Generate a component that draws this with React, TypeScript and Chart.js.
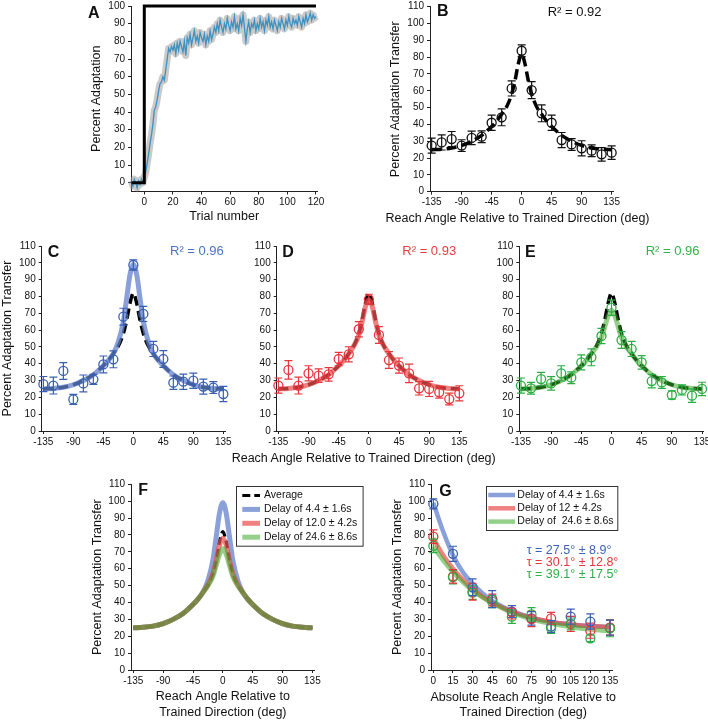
import React, { useEffect, useRef } from 'react';
import { Chart, registerables } from 'chart.js';
Chart.register(...registerables);

const FONT = 'Arial, "Liberation Sans", Helvetica, sans-serif';
Chart.defaults.font.family = FONT;

// ---------- Panel A ----------
const TRIAL_START = -9;
const ADAPTATION = [
  1, -2, 2, 0, -3, 1, -1, 2, 0, 3,
  6, 11, 16, 22, 27, 33, 41, 43, 47, 52,
  56, 57, 60, 58, 64, 70, 76, 74, 77, 75,
  78, 73, 79, 75, 80, 77, 74, 80, 72, 82,
  79, 84, 78, 82, 86, 80, 83, 79, 85, 82,
  80, 84, 78, 83, 80, 86, 81, 84, 88, 85,
  90, 86, 92, 88, 85, 90, 87, 93, 89, 86,
  91, 88, 94, 87, 90, 86, 93, 89, 95, 88,
  80, 87, 91, 85, 90, 88, 92, 86, 90, 87,
  93, 88, 91, 86, 92, 89, 94, 88, 91, 87,
  92, 89, 86, 91, 88, 93, 90, 87, 92, 89,
  94, 90, 88, 93, 90, 92, 89, 94, 91, 88,
  93, 90, 95, 91, 93, 96, 92, 95, 93, 94,
];
const TARGET_X = [-9, 0, 0, 120];
const TARGET_Y = [0, 0, 100, 100];
const TRIAL_TICKS = [0, 20, 40, 60, 80, 100, 120];
const ADAPT_TICKS = [0, 10, 20, 30, 40, 50, 60, 70, 80, 90, 100];

// ---------- Panels B-E ----------
const ANGLES = [-135, -120, -105, -90, -75, -60, -45, -30, -15, 0, 15, 30, 45, 60, 75, 90, 105, 120, 135];
const ANGLE_TICKS = [-135, -90, -45, 0, 45, 90, 135];
const TRANSFER_TICKS = [0, 10, 20, 30, 40, 50, 60, 70, 80, 90, 100, 110];

const AVG_MEAN = [27.4, 29.3, 31.3, 27.4, 32, 32.7, 41, 44.2, 61.4, 83.8, 60.4, 46.6, 41, 30.7, 28.1, 25.8, 24.4, 22.2, 23.2];
const AVG_ERR = [4.5, 4.5, 4.5, 3.5, 4, 3.5, 4.5, 5, 4.5, 3.5, 5, 5, 4.5, 4.5, 3.5, 4.5, 3.5, 4, 4];
const SHORT_MEAN = [27.9, 27, 35.7, 18.8, 28.3, 30.7, 39.6, 42.6, 68, 98.7, 69.6, 48.8, 42.8, 28.7, 29.3, 29.9, 26.4, 25.8, 22];
const SHORT_ERR = [4.5, 5, 5, 3, 5, 3, 5, 5, 5, 3, 4.5, 4.5, 5, 4, 4.5, 4.5, 4.5, 3.5, 4.5];
const MID_MEAN = [27, 36.3, 27, 34.3, 32.9, 33.7, 42.8, 45.6, 60.5, 78.3, 57.1, 42.2, 38.9, 34.3, 25.4, 25, 23, 19, 22.4];
const MID_ERR = [4.5, 5.5, 5, 4.5, 4, 4, 4, 4.5, 4.5, 3, 5, 5, 4.5, 5.5, 4, 4.5, 3.5, 3.5, 4.5];
const LONG_MEAN = [27, 25.4, 30.9, 28.3, 34.3, 31.7, 40.8, 43.8, 56.5, 73.3, 54.1, 48.8, 40.8, 29.7, 28.9, 21.4, 24.4, 21, 25];
const LONG_ERR = [4.5, 3.5, 4, 4, 4.5, 3.5, 4.5, 5, 4.5, 4.5, 5, 4.5, 4, 4, 3.5, 2.5, 3, 4, 4];

// fitted curves
const FIT_ANGLES = [-135, -120, -105, -90, -75, -60, -45, -37.5, -30, -22.5, -15, -10, -5, 0, 5, 10, 15, 22.5, 30, 37.5, 45, 60, 75, 90, 105, 120, 135];
const FIT_AVG = [25, 25.3, 26, 27.5, 30, 33.5, 38.8, 42, 46, 50.5, 58, 66, 76, 82, 76, 66, 58, 50.5, 46, 42, 38.8, 33.5, 30, 27.5, 26, 25.3, 25];
const FIT_SHORT = [25, 25.3, 26, 27.5, 30, 33.5, 38.8, 42, 46, 53, 65, 79, 93, 99, 93, 79, 65, 53, 46, 42, 38.8, 33.5, 30, 27.5, 26, 25.3, 25];
const FIT_MID = [25, 25.3, 26, 27.5, 30, 33.5, 38.8, 42, 46, 50.5, 57, 65, 74, 78, 74, 65, 57, 50.5, 46, 42, 38.8, 33.5, 30, 27.5, 26, 25.3, 25];
const FIT_LONG = [25, 25.3, 26, 27.5, 30, 33.5, 38.8, 42, 46, 50, 55.5, 62, 68.5, 72, 68.5, 62, 55.5, 50, 46, 42, 38.8, 33.5, 30, 27.5, 26, 25.3, 25];

// ---------- Panel G ----------
const ABS_ANGLES = [0, 15, 30, 45, 60, 75, 90, 105, 120, 135];
const G_SHORT_MEAN = [98.4, 68.8, 49, 42, 34.6, 30.6, 25.7, 31.6, 28.7, 25.1];
const G_SHORT_ERR = [3, 4.5, 5, 5, 3.5, 4, 3.5, 4.5, 4.5, 4.5];
const G_MID_MEAN = [79, 55.5, 46.4, 41.5, 34.2, 30.2, 30.6, 27.3, 23.3, 25.1];
const G_MID_ERR = [4, 4, 5, 3.5, 4, 4.5, 3.5, 4.5, 4.5, 4.5];
const G_LONG_MEAN = [73.5, 55, 45.8, 40.5, 31.6, 33, 24.7, 27.3, 18.8, 24.7];
const G_LONG_ERR = [4, 4, 4, 3.5, 4, 4, 3, 3.5, 2, 5];
const G_FIT_ANGLES = [0, 7.5, 15, 22.5, 30, 37.5, 45, 60, 75, 90, 105, 120, 135];
const G_FIT_SHORT = [99, 82, 68, 58, 51, 45.5, 41, 35, 31, 28.5, 27, 26, 25.5];
const G_FIT_MID = [78, 68, 60, 53.5, 48, 43.5, 40, 34.5, 31, 28.5, 27, 26, 25.5];
const G_FIT_LONG = [73, 65, 58, 52, 47, 43, 39.5, 34, 30, 27.5, 25.5, 24, 23];
const ABS_TICKS = [0, 15, 30, 45, 60, 75, 90, 105, 120, 135];

const LBL_AVG = 'Average';
const LBL_SHORT = 'Delay of 4.4 \u00b1 1.6s';
const LBL_MID_F = 'Delay of 12.0 \u00b1 4.2s';
const LBL_MID_G = 'Delay of 12 \u00b1 4.2s';
const LBL_LONG_F = 'Delay of 24.6 \u00b1 8.6s';
const LBL_LONG_G = 'Delay of  24.6 \u00b1 8.6s';

// ---------- styles ----------
const BLUE_LINE = 'rgba(98,128,204,0.75)';
const RED_LINE = 'rgba(235,80,80,0.72)';
const GREEN_LINE = 'rgba(60,170,40,0.55)';
const BLUE_MK = '#3a5fb2';
const RED_MK = '#e8353b';
const GREEN_MK = '#2aae43';

const pts = (xs: number[], ys: number[]) => xs.map((x, i) => ({ x, y: ys[i] }));

function curve(xs: number[], ys: number[], color: string, width: number, dash: number[], order: number, label = '', legend = false): any {
  return {
    type: 'line', label, legend, data: pts(xs, ys), borderColor: color, backgroundColor: color,
    borderWidth: width, borderDash: dash, pointRadius: 0, fill: false,
    cubicInterpolationMode: 'monotone', order, clip: false,
  };
}
function markers(xs: number[], ys: number[], errs: number[], color: string, order: number): any {
  return {
    type: 'line', data: pts(xs, ys), showLine: false, pointRadius: 4.5, pointHoverRadius: 4.5,
    pointBorderColor: color, pointBackgroundColor: 'rgba(255,255,255,0)', pointBorderWidth: 1.3,
    borderColor: color, errors: errs, errColor: color, order, clip: false,
  };
}

const errorBars = {
  id: 'errorBars',
  afterDatasetsDraw(chart: any) {
    const ctx = chart.ctx;
    const ys = chart.scales.y;
    chart.data.datasets.forEach((ds: any, i: number) => {
      if (!ds.errors) return;
      const meta = chart.getDatasetMeta(i);
      ctx.save();
      ctx.strokeStyle = ds.errColor;
      ctx.lineWidth = 1.2;
      meta.data.forEach((pt: any, j: number) => {
        const v = ds.data[j].y;
        const e = ds.errors[j];
        const top = ys.getPixelForValue(v + e);
        const bot = ys.getPixelForValue(v - e);
        const x = pt.x;
        ctx.beginPath();
        ctx.moveTo(x, top); ctx.lineTo(x, bot);
        ctx.moveTo(x - 4, top); ctx.lineTo(x + 4, top);
        ctx.moveTo(x - 4, bot); ctx.lineTo(x + 4, bot);
        ctx.stroke();
      });
      ctx.restore();
    });
  },
};

const boxLegend = {
  id: 'boxLegend',
  afterDraw(chart: any, _args: any, opts: any) {
    if (!opts || !opts.box) return;
    const ctx = chart.ctx;
    const [ox, oy] = opts.origin;
    const [x0, y0, x1, y1] = opts.box;
    ctx.save();
    ctx.fillStyle = '#fff';
    ctx.fillRect(x0 - ox, y0 - oy, x1 - x0, y1 - y0);
    ctx.strokeStyle = '#333';
    ctx.lineWidth = 1;
    ctx.strokeRect(Math.round(x0 - ox) + 0.5, Math.round(y0 - oy) + 0.5, x1 - x0, y1 - y0);
    const items = chart.data.datasets.filter((d: any) => d.legend);
    items.forEach((d: any, k: number) => {
      const y = opts.firstRow + k * opts.rowH - oy;
      ctx.strokeStyle = d.borderColor;
      ctx.lineWidth = d.borderWidth;
      ctx.setLineDash(d.borderDash || []);
      ctx.beginPath();
      ctx.moveTo(opts.sample[0] - ox, y);
      ctx.lineTo(opts.sample[1] - ox, y);
      ctx.stroke();
      ctx.setLineDash([]);
      ctx.fillStyle = '#111';
      ctx.font = `10.5px ${FONT}`;
      ctx.textBaseline = 'middle';
      ctx.textAlign = 'left';
      ctx.fillText(d.label, opts.textX - ox, y);
    });
    ctx.restore();
  },
};

type Spec = { cl: number; ct: number; cw: number; ch: number; L: number; T: number; R: number; B: number };

function scales(spec: Spec, xr: number[], yr: number[], xTicks: number[], yTicks: number[], xTitle: any, yTitle: string | null): any {
  const tickFont = { family: FONT, size: 10 };
  const grid = { display: true, drawOnChartArea: false, drawTicks: true, tickLength: 3, color: '#222', tickColor: '#222' };
  return {
    x: {
      type: 'linear', min: xr[0], max: xr[1],
      afterBuildTicks: (s: any) => { s.ticks = xTicks.map((v) => ({ value: v })); },
      afterFit: (s: any) => { s.height = spec.ct + spec.ch - spec.B; s.paddingLeft = 0; s.paddingRight = 0; },
      grid, border: { display: true, color: '#222', width: 1 },
      ticks: { color: '#111', font: tickFont, padding: 2, maxRotation: 0, autoSkip: false },
      title: xTitle ? { display: true, text: xTitle, color: '#111', font: { family: FONT, size: 12.5, lineHeight: 1.25 }, padding: 0 } : { display: false },
    },
    y: {
      type: 'linear', min: yr[0], max: yr[1],
      afterBuildTicks: (s: any) => { s.ticks = yTicks.map((v) => ({ value: v })); },
      afterFit: (s: any) => { s.width = spec.L - spec.cl; s.paddingTop = 0; s.paddingBottom = 0; },
      grid, border: { display: true, color: '#222', width: 1 },
      ticks: { color: '#111', font: tickFont, padding: 3, autoSkip: false },
      title: yTitle ? { display: true, text: yTitle, color: '#111', font: { family: FONT, size: 12.5, lineHeight: 1.2 }, padding: 0 } : { display: false },
    },
  };
}

function makeConfig(spec: Spec, datasets: any[], sc: any, legendOpts: any = null): any {
  return {
    type: 'line',
    data: { datasets },
    options: {
      responsive: false, animation: false, maintainAspectRatio: false,
      layout: { padding: { left: 0, top: spec.T - spec.ct, right: spec.cl + spec.cw - spec.R, bottom: 0 } },
      plugins: { legend: { display: false }, tooltip: { enabled: false }, boxLegend: legendOpts || {} },
      scales: sc,
      events: [],
    },
    plugins: [errorBars, boxLegend],
  };
}

function Panel({ spec, build }: { spec: Spec; build: () => any }) {
  const ref = useRef<HTMLCanvasElement | null>(null);
  useEffect(() => {
    const chart = new Chart(ref.current as HTMLCanvasElement, build());
    return () => chart.destroy();
  }, []);
  return (
    <canvas ref={ref} width={spec.cw} height={spec.ch}
      style={{ position: 'absolute', left: spec.cl, top: spec.ct, width: spec.cw, height: spec.ch }} />
  );
}

function Txt({ x, y, size = 12.5, color = '#111', bold = false, center = false, children }: any) {
  return (
    <div style={{
      position: 'absolute', left: x, top: y - 0.49 * size, fontFamily: FONT, fontSize: size, lineHeight: 1,
      color, fontWeight: bold ? 'bold' : 'normal', whiteSpace: 'nowrap', transform: center ? 'translateX(-50%)' : undefined,
    }}>{children}</div>
  );
}

const SPEC_A: Spec = { cl: 89, ct: 0, cw: 241, ch: 224, L: 131, T: 6, R: 317.4, B: 191.5 };
const SPEC_B: Spec = { cl: 388, ct: 0, cw: 238, ch: 226, L: 430, T: 6.7, R: 613.3, B: 191.7 };
const SPEC_C: Spec = { cl: 0, ct: 238, cw: 237, ch: 215, L: 41.7, T: 246, R: 225, B: 431 };
const SPEC_D: Spec = { cl: 247, ct: 238, cw: 226, ch: 215, L: 276.7, T: 246, R: 461, B: 431 };
const SPEC_E: Spec = { cl: 489, ct: 238, cw: 225, ch: 215, L: 519.3, T: 246, R: 703.7, B: 431 };
const SPEC_F: Spec = { cl: 90, ct: 476, cw: 277, ch: 244, L: 131, T: 484.3, R: 314.7, B: 670 };
const SPEC_G: Spec = { cl: 390, ct: 476, cw: 235, ch: 244, L: 431, T: 484.3, R: 612.6, B: 670 };

const Y_TITLE = 'Percent Adaptation Transfer';
const X_TITLE = 'Reach Angle Relative to Trained Direction (deg)';
const G_X_TITLE = ['Absolute Reach Angle Relative to', 'Trained Direction (deg)'];
const DASH = [10, 5];

function buildA() {
  const trials = ADAPTATION.map((_, i) => TRIAL_START + i);
  const ds = [
    { type: 'line', data: pts(TARGET_X, TARGET_Y), borderColor: '#000', borderWidth: 3, pointRadius: 0, order: 0, clip: false, tension: 0 },
    { type: 'line', data: pts(trials, ADAPTATION), borderColor: '#3d92c2', borderWidth: 1.3, pointRadius: 0, order: 1, tension: 0, clip: false },
    { type: 'line', data: pts(trials, ADAPTATION), borderColor: 'rgba(150,150,150,0.5)', borderWidth: 7, borderJoinStyle: 'round', pointRadius: 0, order: 2, tension: 0, clip: false },
  ];
  return makeConfig(SPEC_A, ds, scales(SPEC_A, [-9.3, 121], [-5, 100], TRIAL_TICKS, ADAPT_TICKS, 'Trial number', 'Percent Adaptation'));
}
function buildB() {
  const ds = [
    markers(ANGLES, AVG_MEAN, AVG_ERR, '#111', 0),
    curve(FIT_ANGLES, FIT_AVG, '#000', 3.5, DASH, 5),
  ];
  return makeConfig(SPEC_B, ds, scales(SPEC_B, [-137.5, 137.5], [0, 110], ANGLE_TICKS, TRANSFER_TICKS, null, Y_TITLE));
}
function buildC() {
  const ds = [
    markers(ANGLES, SHORT_MEAN, SHORT_ERR, BLUE_MK, 0),
    curve(FIT_ANGLES, FIT_SHORT, BLUE_LINE, 5, [], 3),
    curve(FIT_ANGLES, FIT_AVG, '#000', 3.5, DASH, 5),
  ];
  return makeConfig(SPEC_C, ds, scales(SPEC_C, [-137.5, 137.5], [0, 110], ANGLE_TICKS, TRANSFER_TICKS, null, Y_TITLE));
}
function buildD() {
  const ds = [
    markers(ANGLES, MID_MEAN, MID_ERR, RED_MK, 0),
    curve(FIT_ANGLES, FIT_MID, RED_LINE, 5, [], 2),
    curve(FIT_ANGLES, FIT_AVG, '#000', 3.5, DASH, 5),
  ];
  return makeConfig(SPEC_D, ds, scales(SPEC_D, [-137.5, 137.5], [0, 110], ANGLE_TICKS, TRANSFER_TICKS, null, null));
}
function buildE() {
  const ds = [
    markers(ANGLES, LONG_MEAN, LONG_ERR, GREEN_MK, 0),
    curve(FIT_ANGLES, FIT_LONG, GREEN_LINE, 5, [], 1),
    curve(FIT_ANGLES, FIT_AVG, '#000', 3.5, DASH, 5),
  ];
  return makeConfig(SPEC_E, ds, scales(SPEC_E, [-137.5, 137.5], [0, 110], ANGLE_TICKS, TRANSFER_TICKS, null, null));
}
function buildF() {
  const ds = [
    curve(FIT_ANGLES, FIT_AVG, '#000', 3.2, [8, 4], 5, LBL_AVG, true),
    curve(FIT_ANGLES, FIT_SHORT, BLUE_LINE, 5, [], 3, LBL_SHORT, true),
    curve(FIT_ANGLES, FIT_MID, RED_LINE, 5, [], 2, LBL_MID_F, true),
    curve(FIT_ANGLES, FIT_LONG, GREEN_LINE, 5, [], 1, LBL_LONG_F, true),
  ];
  const legend = { origin: [SPEC_F.cl, SPEC_F.ct], box: [235.7, 486, 362.3, 545.7], firstRow: 495.5, rowH: 13.9, sample: [242.3, 260], textX: 264 };
  return makeConfig(SPEC_F, ds, scales(SPEC_F, [-138.5, 138.5], [0, 110], ANGLE_TICKS, TRANSFER_TICKS, ['Reach Angle Relative to', 'Trained Direction (deg)'], Y_TITLE), legend);
}
function buildG() {
  const ds = [
    curve(G_FIT_ANGLES, G_FIT_SHORT, BLUE_LINE, 4.5, [], 3, LBL_SHORT, true),
    curve(G_FIT_ANGLES, G_FIT_MID, RED_LINE, 4.5, [], 2, LBL_MID_G, true),
    curve(G_FIT_ANGLES, G_FIT_LONG, GREEN_LINE, 4.5, [], 1, LBL_LONG_G, true),
    markers(ABS_ANGLES, G_LONG_MEAN, G_LONG_ERR, GREEN_MK, 0),
    markers(ABS_ANGLES, G_MID_MEAN, G_MID_ERR, RED_MK, 0),
    markers(ABS_ANGLES, G_SHORT_MEAN, G_SHORT_ERR, BLUE_MK, 0),
  ];
  const legend = { origin: [SPEC_G.cl, SPEC_G.ct], box: [486, 486, 617.3, 530], firstRow: 495, rowH: 13.3, sample: [488.3, 515], textX: 517.3 };
  return makeConfig(SPEC_G, ds, scales(SPEC_G, [-1.8, 137], [0, 110], ABS_TICKS, TRANSFER_TICKS, null, Y_TITLE), legend);
}

export default function App() {
  return (
    <div style={{ position: 'absolute', left: 0, top: 0, width: 708, height: 720, overflow: 'hidden', background: '#fff' }}>
      <Panel spec={SPEC_A} build={buildA} />
      <Panel spec={SPEC_B} build={buildB} />
      <Panel spec={SPEC_C} build={buildC} />
      <Panel spec={SPEC_D} build={buildD} />
      <Panel spec={SPEC_E} build={buildE} />
      <Panel spec={SPEC_F} build={buildF} />
      <Panel spec={SPEC_G} build={buildG} />

      <Txt x={88} y={12.5} size={16} bold>A</Txt>
      <Txt x={437} y={11} size={16} bold>B</Txt>
      <Txt x={47.7} y={251.5} size={16} bold>C</Txt>
      <Txt x={282.3} y={251.5} size={16} bold>D</Txt>
      <Txt x={525} y={251.5} size={16} bold>E</Txt>
      <Txt x={138.3} y={490.3} size={16} bold>F</Txt>
      <Txt x={439.3} y={491} size={16} bold>G</Txt>

      <Txt x={547.7} y={11.7} size={13}>R² = 0.92</Txt>
      <Txt x={170} y={250.5} size={13} color="#4a72c4">R² = 0.96</Txt>
      <Txt x={402.3} y={250.5} size={13} color="#e83c3c">R² = 0.93</Txt>
      <Txt x={645.7} y={250.5} size={13} color="#2fb34a">R² = 0.96</Txt>

      <Txt x={517.5} y={218.3} size={12.5} center>{X_TITLE}</Txt>
      <Txt x={363.7} y={458.3} size={12.5} center>{X_TITLE}</Txt>
      <Txt x={523.3} y={696.7} size={12.5} center>{G_X_TITLE[0]}</Txt>
      <Txt x={523.3} y={712.3} size={12.5} center>{G_X_TITLE[1]}</Txt>

      <Txt x={526.7} y={550} size={12.5} color="#3b63b5">τ = 27.5° ± 8.9°</Txt>
      <Txt x={526.7} y={562.3} size={12.5} color="#e8383d">τ = 30.1° ± 12.8°</Txt>
      <Txt x={526.7} y={574.3} size={12.5} color="#2fb048">τ = 39.1° ± 17.5°</Txt>
    </div>
  );
}
